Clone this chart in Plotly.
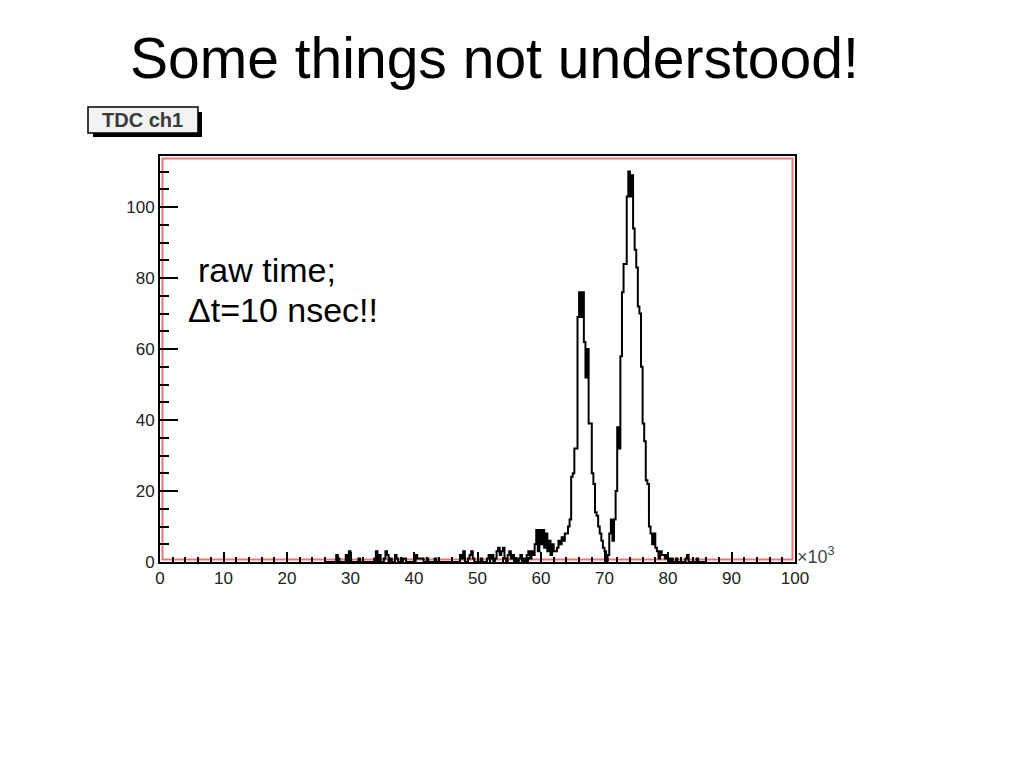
import numpy as np
import plotly.graph_objects as go

# ---------------- data ----------------
title_text = "Some things not understood!"
hist_name = "TDC ch1"
note_lines = ["raw time;", "\u0394t=10 nsec!!"]

bin_start = 26.0      # x (in units of 10^3) of first listed bin
bin_width = 0.25      # bin width (x10^3)
counts = [
    # 26.0 - 30.75
    0, 0, 0, 0, 0, 0, 0, 2, 1, 0, 0, 0, 0, 2, 0, 3, 0, 0, 0, 0,
    # 31.0 - 35.75
    0, 1, 0, 0, 0, 0, 0, 0, 0, 0, 0, 1, 3, 0, 2, 0, 0, 1, 3, 2,
    # 36.0 - 40.75
    0, 1, 0, 0, 2, 1, 0, 0, 0, 1, 1, 0, 0, 0, 0, 0, 0, 2, 1, 1,
    # 41.0 - 45.75
    1, 1, 0, 0, 1, 0, 0, 0, 0, 1, 0, 0, 0, 0, 0, 0, 0, 0, 0, 0,
    # 46.0 - 50.75
    0, 0, 0, 0, 0, 2, 1, 3, 0, 0, 1, 2, 3, 1, 0, 0, 0, 0, 1, 0,
    # 51.0 - 55.75
    0, 0, 1, 2, 1, 2, 0, 1, 3, 4, 2, 3, 4, 1, 0, 2, 3, 1, 2, 0,
    # 56.0 - 60.75
    1, 0, 1, 2, 0, 1, 0, 2, 3, 1, 3, 2, 5, 9, 3, 9, 5, 9, 4, 8,
    # 61.0 - 65.75
    3, 6, 2, 5, 3, 3, 4, 6, 5, 7, 6, 8, 8, 10, 12, 24, 25, 32, 32, 69,
    # 66.0 - 70.75
    76, 69, 76, 62, 52, 60, 39, 39, 25, 22, 14, 13, 10, 8, 6, 4, 3, 0, 2, 8,
    # 71.0 - 75.75
    12, 6, 12, 20, 38, 32, 58, 76, 84, 84, 103, 110, 103, 109, 94, 88, 83, 72, 70, 55,
    # 76.0 - 80.75
    39, 34, 23, 22, 10, 8, 5, 8, 4, 3, 1, 3, 2, 2, 1, 2, 1, 0, 1, 0,
    # 81.0 - 85.75
    0, 1, 0, 0, 0, 0, 0, 1, 2, 0, 0, 0, 0, 0, 1, 0, 0, 0, 0, 0,
]

x_range = [0, 100]
y_range = [0, 114.4]
x_tick_vals = [0, 10, 20, 30, 40, 50, 60, 70, 80, 90, 100]
y_tick_vals = [0, 20, 40, 60, 80, 100]

# ---------------- layout geometry (pixels, page coords) ----------------
OFF = 8                       # default page body margin
W_PX, H_PX = 1024 - 2 * OFF, 768 - 2 * OFF
L, R, T, B = 160 - OFF, 795 - OFF, 156 - OFF, 562 - OFF
PW, PH = R - L, B - T


def px(x):
    """page x pixel -> paper coordinate"""
    return (x - OFF - L) / PW


def py(y):
    """page y pixel -> paper coordinate"""
    return (B - (y - OFF)) / PH


edges = bin_start + bin_width * np.arange(len(counts) + 1)
step_y = list(counts) + [counts[-1]]

FONT = "Liberation Sans, Arial, sans-serif"

fig = go.Figure()
fig.add_trace(go.Scatter(
    x=edges, y=step_y, mode="lines",
    line=dict(color="black", width=2, shape="hv"),
    hoverinfo="skip", showlegend=False,
))

shapes = [
    # inner red frame line
    dict(type="rect", xref="paper", yref="paper",
         x0=2.5 / PW, x1=1 - 2.5 / PW, y0=2.5 / PH, y1=1 - 2.5 / PH,
         line=dict(color="#e87878", width=2), layer="below"),
    # title box shadow
    dict(type="rect", xref="paper", yref="paper",
         x0=px(93), x1=px(202), y0=py(137), y1=py(112),
         fillcolor="black", line=dict(width=0)),
    # title box
    dict(type="rect", xref="paper", yref="paper",
         x0=px(88), x1=px(198), y0=py(133), y1=py(107),
         fillcolor="#f2f2f2", line=dict(color="black", width=1.5)),
]

annotations = [
    dict(text=title_text, xref="paper", yref="paper", x=px(494), y=py(58),
         xanchor="center", yanchor="middle", showarrow=False,
         font=dict(family=FONT, size=57, color="black")),
    dict(text="<b>" + hist_name + "</b>", xref="paper", yref="paper", x=px(142), y=py(120),
         xanchor="center", yanchor="middle", showarrow=False,
         font=dict(family=FONT, size=20, color="#3a3a3a")),
    dict(text=note_lines[0], xref="paper", yref="paper", x=px(196), y=py(270),
         xanchor="left", yanchor="middle", showarrow=False,
         font=dict(family=FONT, size=34, color="black")),
    dict(text=note_lines[1], xref="paper", yref="paper", x=px(186), y=py(310),
         xanchor="left", yanchor="middle", showarrow=False,
         font=dict(family=FONT, size=34, color="black")),
    dict(text="\u00d710<sup>3</sup>", xref="paper", yref="paper", x=px(795), y=py(555),
         xanchor="left", yanchor="middle", showarrow=False,
         font=dict(family=FONT, size=18, color="#444444")),
]

axis_common = dict(
    showgrid=False, zeroline=False,
    showline=True, linecolor="black", linewidth=2, mirror=True,
    ticks="inside", tickcolor="black", tickwidth=2,
    tickfont=dict(family=FONT, size=17, color="#222222"),
    fixedrange=True,
)

fig.update_layout(
    width=W_PX, height=H_PX,
    margin=dict(l=L, r=W_PX - R, t=T, b=H_PX - B, pad=0),
    paper_bgcolor="white", plot_bgcolor="white",
    xaxis=dict(range=x_range, tickvals=x_tick_vals, ticklen=10,
               minor=dict(dtick=2, ticklen=5, tickwidth=2, tickcolor="black", ticks="inside"),
               **axis_common),
    yaxis=dict(range=y_range, tickvals=y_tick_vals, ticklen=18,
               minor=dict(dtick=5, ticklen=9, tickwidth=2, tickcolor="black", ticks="inside"),
               **axis_common),
    shapes=shapes,
    annotations=annotations,
    showlegend=False,
)

fig.write_html("out.html")
